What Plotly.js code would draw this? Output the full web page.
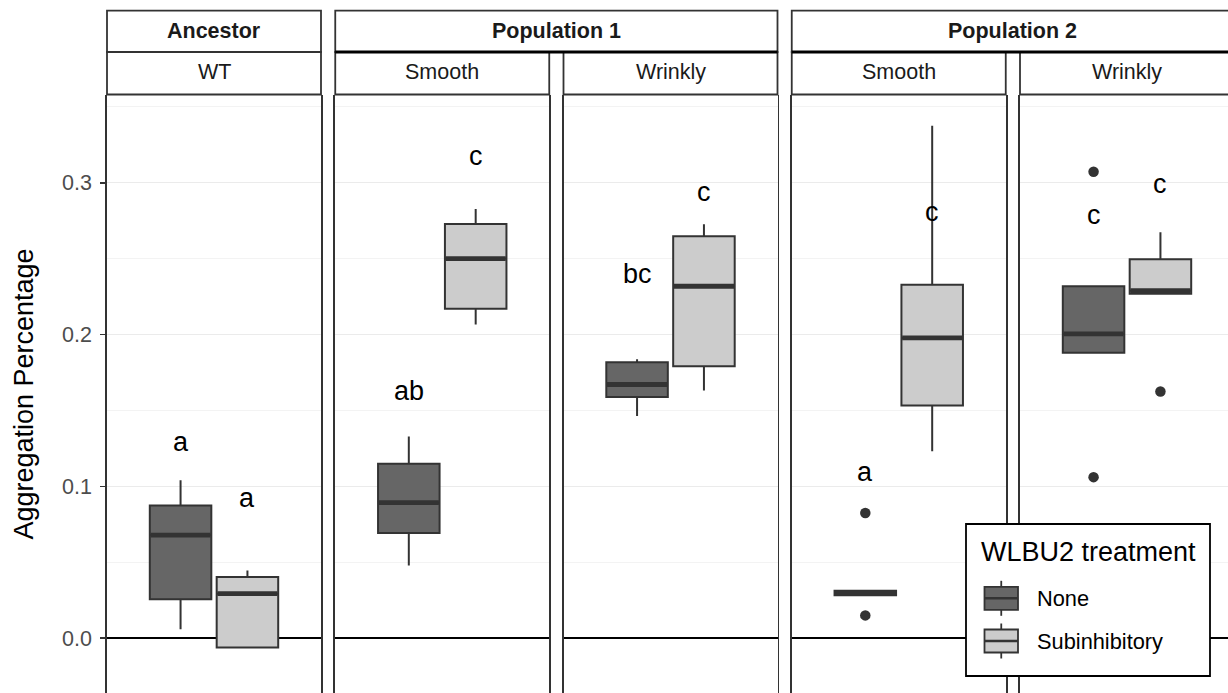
<!DOCTYPE html>
<html>
<head>
<meta charset="utf-8">
<script src="https://cdn.plot.ly/plotly-3.0.1.min.js"></script>
<style>html,body{margin:0;padding:0;background:#fff;}#chart{width:1228px;height:693px;}</style>
</head>
<body>
<div id="chart"></div>
<script>
// ---------------- DATA ----------------
const groups = ['Ancestor', 'Population 1', 'Population 1', 'Population 2', 'Population 2'];
const morphs = ['WT', 'Smooth', 'Wrinkly', 'Smooth', 'Wrinkly'];
const treatments = ['None', 'Subinhibitory'];

// Treatment "None"
const noneLower  = [0.0060, 0.0480, 0.1463, 0.0283, 0.1880];
const noneQ1     = [0.0257, 0.0693, 0.1588, 0.0283, 0.1880];
const noneMedian = [0.0680, 0.0893, 0.1671, 0.0298, 0.2004];
const noneQ3     = [0.0875, 0.1149, 0.1818, 0.0313, 0.2318];
const noneUpper  = [0.1040, 0.1329, 0.1838, 0.0313, 0.2318];
const noneOutliers = [[], [], [], [0.0825, 0.0151], [0.3072, 0.1061]];
const noneLetters  = ['a', 'ab', 'bc', 'a', 'c'];
const noneLetterY  = [0.1280, 0.1616, 0.2384, 0.1080, 0.2772];

// Treatment "Subinhibitory"
const subLower  = [-0.0061, 0.2066, 0.1632, 0.1232, 0.2268];
const subQ1     = [-0.0061, 0.2169, 0.1792, 0.1533, 0.2268];
const subMedian = [0.0294, 0.2500, 0.2318, 0.1978, 0.2289];
const subQ3     = [0.0403, 0.2728, 0.2647, 0.2327, 0.2496];
const subUpper  = [0.0447, 0.2827, 0.2726, 0.3375, 0.2673];
const subOutliers = [[], [], [], [], [0.1625]];
const subLetters  = ['a', 'c', 'c', 'c', 'c'];
const subLetterY  = [0.0910, 0.3162, 0.2926, 0.2794, 0.2976];

const yTickVals = [0.0, 0.1, 0.2, 0.3];
const yTickText = ['0.0', '0.1', '0.2', '0.3'];

// ---------------- STYLE / LAYOUT ----------------
const W = 1228, H = 693;
const ML = 107, MT = 95;
const PW = W - ML, PH = H - MT;
const px2x = p => (p - ML) / PW;
const py2y = p => (H - p) / PH;
const panelLeft = [107, 335.25, 563.5, 791.75, 1020];
const panelW = 214;
const FONT = 'Liberation Sans, Arial, Helvetica, sans-serif';
const fillNone = '#666666', fillSub = '#cccccc', edge = '#333333';
const dodge = [0.8125, 1.1875];
const boxW = 0.345;
const LW = 2;

const series = [
  {name: treatments[0], lo: noneLower, q1: noneQ1, med: noneMedian, q3: noneQ3, hi: noneUpper, out: noneOutliers, lab: noneLetters, labY: noneLetterY, fill: fillNone},
  {name: treatments[1], lo: subLower, q1: subQ1, med: subMedian, q3: subQ3, hi: subUpper, out: subOutliers, lab: subLetters, labY: subLetterY, fill: fillSub}
];

const data = [];
const annotations = [];
const layout = {
  width: W, height: H,
  margin: {l: ML, r: 0, t: MT, b: 0, pad: 0},
  paper_bgcolor: '#ffffff', plot_bgcolor: '#ffffff',
  showlegend: false,
  font: {family: FONT, color: '#1a1a1a'},
  shapes: [], annotations: annotations
};

const yRange = [-0.0360, 0.3577];

for (let k = 0; k < 5; k++) {
  const sfx = k === 0 ? '' : String(k + 1);
  const xa = 'x' + sfx, ya = 'y' + sfx;
  const left = panelLeft[k];
  const right = Math.min(left + panelW, W);
  const frac = (right - left) / panelW;
  layout['xaxis' + sfx] = {
    domain: [px2x(left), px2x(right)],
    range: [0.4, 0.4 + 1.2 * frac],
    anchor: ya, showgrid: false, zeroline: false, showticklabels: false,
    ticks: '', showline: false, fixedrange: true
  };
  layout['yaxis' + sfx] = {
    domain: [0, 1], anchor: xa, range: yRange,
    tickvals: yTickVals, ticktext: yTickText,
    showticklabels: k === 0,
    ticks: k === 0 ? 'outside' : '', ticklen: 5, tickwidth: 1.8, tickcolor: edge,
    tickfont: {size: 21.5, color: '#4d4d4d', family: FONT},
    ticklabelstandoff: 4,
    showgrid: true, gridcolor: '#ebebeb', gridwidth: 1.5,
    minor: {dtick: 0.05, tick0: 0, showgrid: true, gridcolor: '#f2f2f2', gridwidth: 0.9, ticks: ''},
    zeroline: true, zerolinecolor: '#000000', zerolinewidth: 2.2,
    showline: true, mirror: k < 4 ? true : false, linecolor: edge, linewidth: 1.8,
    fixedrange: true
  };
  if (k === 0) {
    layout.yaxis.title = {text: 'Aggregation Percentage', font: {size: 27, color: '#000000', family: FONT}, standoff: 20};
  }

  series.forEach((s, j) => {
    const xpos = dodge[j];
    data.push({
      type: 'box', xaxis: xa, yaxis: ya, name: s.name,
      x: [xpos], q1: [s.q1[k]], median: [s.med[k]], q3: [s.q3[k]],
      lowerfence: [s.lo[k]], upperfence: [s.hi[k]],
      width: boxW, whiskerwidth: 0, boxpoints: false,
      fillcolor: s.fill, line: {color: edge, width: LW},
      hoverinfo: 'skip'
    });
    // thick median (ggplot fatten)
    data.push({
      type: 'scatter', mode: 'lines', xaxis: xa, yaxis: ya,
      x: [xpos - boxW / 2 + 0.004, xpos + boxW / 2 - 0.004], y: [s.med[k], s.med[k]],
      line: {color: edge, width: 4.8}, hoverinfo: 'skip'
    });
    if (s.out[k].length) {
      data.push({
        type: 'scatter', mode: 'markers', xaxis: xa, yaxis: ya,
        x: s.out[k].map(() => xpos), y: s.out[k],
        marker: {color: edge, size: 10.5}, hoverinfo: 'skip'
      });
    }
    annotations.push({
      xref: xa, yref: ya, x: xpos, y: s.labY[k], text: s.lab[k],
      showarrow: false, xanchor: 'center', yanchor: 'middle', yshift: 2,
      font: {size: 27, color: '#000000', family: FONT}
    });
  });
}

// ---------------- STRIPS ----------------
const shp = layout.shapes;
const rowTop = 10.7, rowMid = 52, rowBot = 94.5;
function rect(x0, y0, x1, y1, opts) {
  shp.push(Object.assign({type: 'rect', xref: 'paper', yref: 'paper',
    x0: px2x(x0), x1: px2x(x1), y0: py2y(y1), y1: py2y(y0),
    fillcolor: '#ffffff', line: {color: edge, width: 1.8}, layer: 'above'}, opts || {}));
}
function line(x0, y0, x1, y1, color, width) {
  shp.push({type: 'line', xref: 'paper', yref: 'paper',
    x0: px2x(x0), x1: px2x(x1), y0: py2y(y0), y1: py2y(y1),
    line: {color: color, width: width}, layer: 'above'});
}
function label(text, cx, cy, size, bold, color, anchor) {
  annotations.push({xref: 'paper', yref: 'paper', x: px2x(cx), y: py2y(cy),
    text: bold ? '<b>' + text + '</b>' : text, showarrow: false,
    xanchor: anchor || 'center', yanchor: 'middle',
    font: {size: size, color: color || '#1a1a1a', family: FONT}});
}

// top-level strips (group)
const groupSpans = [[0, 0], [1, 2], [3, 4]];
groupSpans.forEach(([a, b]) => {
  const x0 = panelLeft[a];
  const x1 = b === 4 ? W + 10 : panelLeft[b] + panelW;
  rect(x0, rowTop, x1, rowMid);
  const cx = (panelLeft[a] + panelLeft[b] + panelW) / 2;
  label(groups[a], cx, 30.5, 21.5, true);
});
// second-level strips (morph)
for (let k = 0; k < 5; k++) {
  const x0 = panelLeft[k];
  const x1 = k === 4 ? W + 10 : x0 + panelW;
  rect(x0, rowMid, x1, rowBot);
  label(morphs[k], x0 + panelW / 2, 72, 21.5, false);
}
// nested separator lines under multi-panel groups
line(panelLeft[1], rowMid, panelLeft[2] + panelW, rowMid, '#000000', 2.8);
line(panelLeft[3], rowMid, W + 10, rowMid, '#000000', 2.8);

// ---------------- LEGEND (drawn) ----------------
rect(966, 524, 1210, 676, {line: {color: '#000000', width: 1.8}});
label('WLBU2 treatment', 979, 552, 27, false, '#000000', 'left');
const keyX0 = 984.5, keyX1 = 1018, keyCx = (984.5 + 1018) / 2;
const keyRows = [
  {cy: 598.3, fill: fillNone, text: treatments[0]},
  {cy: 641, fill: fillSub, text: treatments[1]}
];
keyRows.forEach(r => {
  line(keyCx, r.cy - 17.5, keyCx, r.cy + 17.5, edge, 1.8);
  rect(keyX0, r.cy - 11.5, keyX1, r.cy + 11.5, {fillcolor: r.fill, line: {color: edge, width: 1.8}});
  line(keyX0, r.cy, keyX1, r.cy, edge, 2.4);
  label(r.text, 1035, r.cy, 21.8, false, '#000000', 'left');
});

Plotly.newPlot('chart', data, layout, {displayModeBar: false, staticPlot: true});
</script>
</body>
</html>
